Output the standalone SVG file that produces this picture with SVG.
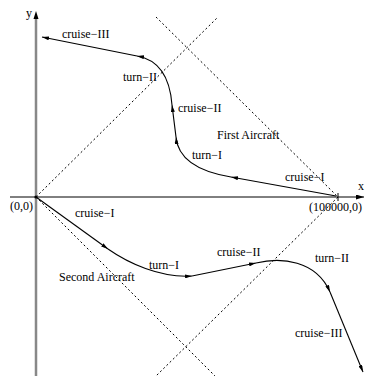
<svg xmlns="http://www.w3.org/2000/svg" width="365" height="376" viewBox="0 0 365 376">
  <style>
    text { font-family: "Liberation Serif", "Times New Roman", serif; font-size: 12px; fill: #000; }
    .dash { stroke: #000; stroke-width: 1; stroke-dasharray: 2 2.5; fill: none; }
    .traj { stroke: #000; stroke-width: 1.1; fill: none; marker-end: url(#arr); }
  </style>
  <defs>
    <marker id="arr" viewBox="0 0 7 4" refX="7" refY="2" markerWidth="7" markerHeight="4" markerUnits="userSpaceOnUse" orient="auto">
      <path d="M0,0 L7,2 L0,4 z" fill="#000"/>
    </marker>
    <marker id="axarr" viewBox="0 0 8 5" refX="8" refY="2.5" markerWidth="8" markerHeight="5" markerUnits="userSpaceOnUse" orient="auto">
      <path d="M0,0 L8,2.5 L0,5 z" fill="#000"/>
    </marker>
  </defs>
  <rect width="365" height="376" fill="#fff"/>

  <g id="axes">
    <line x1="36" y1="376" x2="36" y2="18" stroke="#888" stroke-width="2.5"/>
    <path d="M33.5,19 L36,11 L38.5,19 z" fill="#000"/>
    <line x1="10" y1="197" x2="364" y2="197" stroke="#000" stroke-width="1" marker-end="url(#axarr)"/>
    <line x1="338" y1="193" x2="338" y2="201" stroke="#000" stroke-width="1"/>
    <circle cx="36" cy="197" r="1.6" fill="#000"/>
    <text x="26" y="17">y</text>
    <text x="358" y="190">x</text>
    <text x="10" y="210">(0,0)</text>
    <text x="309" y="211">(100000,0)</text>
  </g>

  <g id="guides">
    <line class="dash" x1="36" y1="197" x2="218" y2="17"/>
    <line class="dash" x1="156" y1="17" x2="338" y2="197"/>
    <line class="dash" x1="338" y1="197" x2="156" y2="376"/>
    <line class="dash" x1="36" y1="197" x2="215" y2="376"/>
  </g>

  <g id="connectors">
    <g id="first-aircraft-path">
      <path class="traj" d="M336,196 L231,177"/>
      <path class="traj" d="M231,177 C201,172 178,160 176,137"/>
      <path class="traj" d="M176,137 L172,105"/>
      <path class="traj" d="M172,105 C170,78 160,60 137,56"/>
      <path class="traj" d="M137,56 L42,37"/>
    </g>
    <g id="second-aircraft-path">
      <path class="traj" d="M36,197 L108,249"/>
      <path class="traj" d="M108,249 C128,263 160,278 192,276"/>
      <path class="traj" d="M192,276 L256,263"/>
      <path class="traj" d="M256,263 C281,257 316,260 330,292"/>
      <path class="traj" d="M330,292 L363,372"/>
    </g>
  </g>

  <g id="first-aircraft">
    <text x="62" y="38">cruise−III</text>
    <text x="123" y="81">turn−II</text>
    <text x="178" y="112">cruise−II</text>
    <text x="217" y="139">First Aircraft</text>
    <text x="192" y="159">turn−I</text>
    <text x="285" y="181">cruise−I</text>
  </g>

  <g id="second-aircraft">
    <text x="75" y="217">cruise−I</text>
    <text x="149" y="269">turn−I</text>
    <text x="59" y="281">Second Aircraft</text>
    <text x="217" y="256">cruise−II</text>
    <text x="315" y="262">turn−II</text>
    <text x="295" y="337">cruise−III</text>
  </g>
</svg>
